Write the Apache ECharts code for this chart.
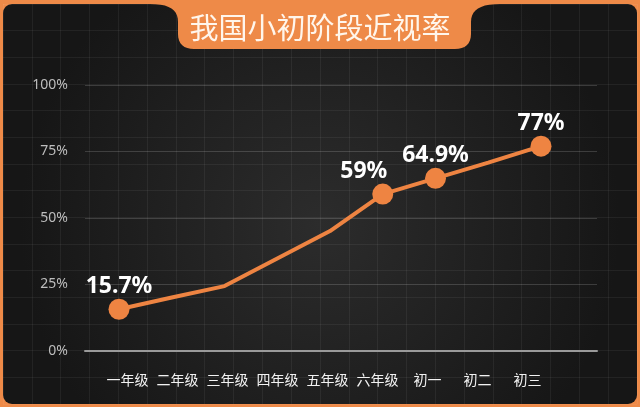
<!DOCTYPE html>
<html><head><meta charset="utf-8">
<script src="https://cdn.jsdelivr.net/npm/echarts@6/dist/echarts.min.js"></script>
<style>html,body{margin:0;padding:0;background:#EE8A48;}#c{width:640px;height:407px;}</style>
</head><body><div id="c"></div>
<script>
const titleText = '我国小初阶段近视率';
const categories = ['一年级','二年级','三年级','四年级','五年级','六年级','初一','初二','初三'];
const rates = [15.7, 20.1, 24.4, 34.8, 45.1, 59, 64.9, 70.8, 77];
const labeledIndex = [0, 5, 6, 8];
const yTicks = [0, 25, 50, 75, 100];

const orange = '#EE8442';
const chart = echarts.init(document.getElementById('c'), null, {renderer:'canvas'});

// decorative tab outline sampled from cubic bezier segments
function cubic(p0, p1, p2, p3, n) {
  const pts = [];
  for (let k = 1; k <= n; k++) {
    const t = k / n, u = 1 - t;
    pts.push([
      u*u*u*p0[0] + 3*u*u*t*p1[0] + 3*u*t*t*p2[0] + t*t*t*p3[0],
      u*u*u*p0[1] + 3*u*u*t*p1[1] + 3*u*t*t*p2[1] + t*t*t*p3[1]
    ]);
  }
  return pts;
}
const tab = [[150,0],[500,0],[500,4]]
  .concat(cubic([500,4],[480,4],[471,10],[471,22],10))
  .concat([[471,34]])
  .concat(cubic([471,34],[471,44],[465,49],[455,49],8))
  .concat([[194,49]])
  .concat(cubic([194,49],[184,49],[178,44],[178,34],8))
  .concat([[178,22]])
  .concat(cubic([178,22],[178,10],[170,4],[150,4],10));

const seriesData = rates.map((v, i) => {
  const on = labeledIndex.includes(i);
  return {
    value: v,
    symbolSize: on ? 21 : 0,
    label: {
      show: on,
      formatter: v + '%',
      offset: i === 5 ? [-19, 0] : [0, 0]
    }
  };
});

chart.setOption({
  animation: false,
  backgroundColor: 'transparent',
  title: {
    text: titleText, left: 'center', top: 8, z: 200,
    textStyle: {color: '#FFF6EC', fontSize: 29, fontWeight: 'normal', fontFamily: 'Noto Sans CJK SC'}
  },
  graphic: [
    {type: 'rect', z: -100, shape: {x: 3, y: 4, width: 634, height: 400, r: 9},
     style: {fill: {type: 'radial', x: 0.5, y: 0.55, r: 0.75,
       colorStops: [{offset: 0, color: '#2c2c2c'}, {offset: 1, color: '#161616'}]}}},
    {type: 'polygon', z: 100, shape: {points: tab}, style: {fill: '#EE8A48'}}
  ],
  grid: [
    {left: 85, right: 43, top: 85, bottom: 56},
    {left: 119, right: 99, top: 85, bottom: 56},
    {left: 127.5, right: 112.5, top: 85, bottom: 56},
    {left: 3, right: 3, top: 4, bottom: 3}
  ],
  xAxis: [
    {gridIndex: 0, type: 'category', data: categories, show: true,
     axisLine: {lineStyle: {color: '#9a9a9a', width: 2}}, axisTick: {show: false}, axisLabel: {show: false}},
    {gridIndex: 1, type: 'category', data: categories, boundaryGap: false, show: false},
    {gridIndex: 2, type: 'category', data: categories, boundaryGap: false,
     axisLine: {show: false}, axisTick: {show: false},
     axisLabel: {color: '#F2F2F2', fontSize: 14, margin: 22, interval: 0, fontFamily: 'Noto Sans CJK SC'}},
    {gridIndex: 3, type: 'value', min: 0, max: 22, interval: 1, axisLabel: {show: false},
     axisLine: {show: false}, axisTick: {show: false},
     splitLine: {show: true, lineStyle: {color: 'rgba(255,255,255,0.06)', width: 1}}}
  ],
  yAxis: [
    {gridIndex: 0, type: 'value', min: yTicks[0], max: yTicks[yTicks.length - 1], interval: 25,
     axisLine: {show: false}, axisTick: {show: false},
     axisLabel: {formatter: '{value}%', color: '#BDBDBD', fontSize: 14, margin: 17, fontFamily: 'Noto Sans'},
     splitLine: {lineStyle: {color: 'rgba(255,255,255,0.16)', width: 1}}},
    {gridIndex: 1, type: 'value', min: 0, max: 100, show: false, splitLine: {show: false}},
    {gridIndex: 2, type: 'value', min: 0, max: 100, show: false, splitLine: {show: false}},
    {gridIndex: 3, type: 'value', min: 0, max: 15, interval: 1, axisLabel: {show: false},
     axisLine: {show: false}, axisTick: {show: false},
     splitLine: {show: true, lineStyle: {color: 'rgba(255,255,255,0.06)', width: 1}}}
  ],
  series: [{
    type: 'line', xAxisIndex: 1, yAxisIndex: 1,
    data: seriesData,
    symbol: 'circle',
    lineStyle: {color: orange, width: 4},
    itemStyle: {color: orange},
    label: {position: 'top', distance: 1, color: '#FFFFFF', fontSize: 23, fontWeight: 'bold', fontFamily: 'Noto Sans'},
    z: 5
  }]
});
</script></body></html>
